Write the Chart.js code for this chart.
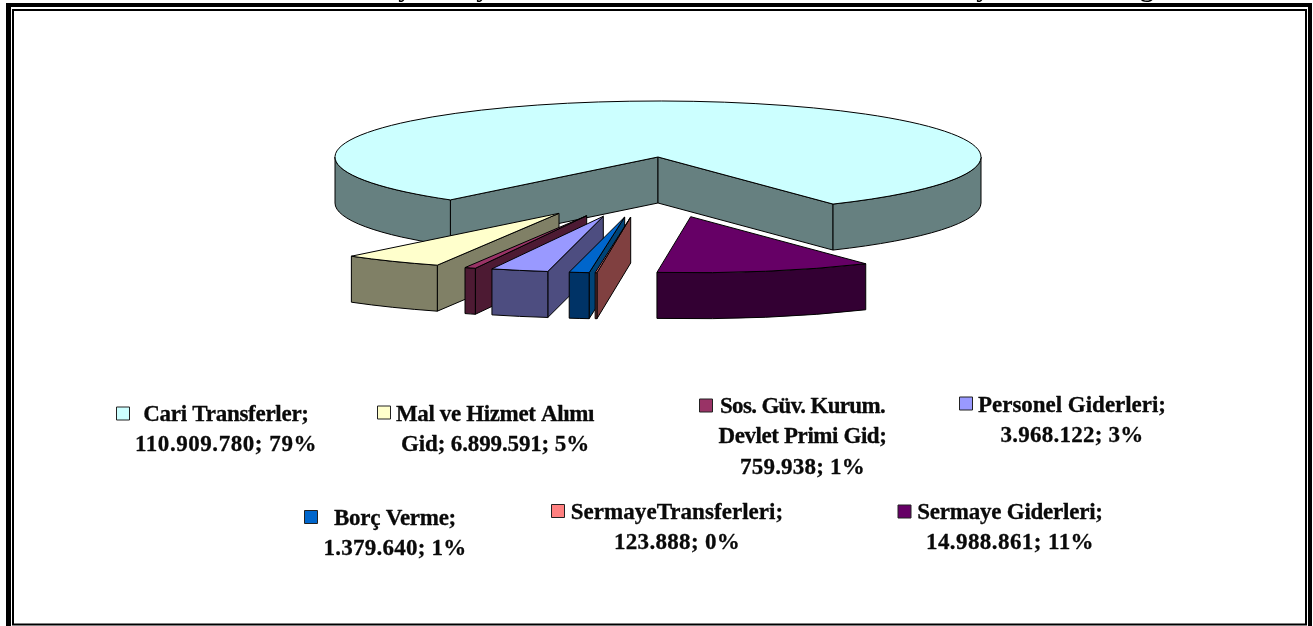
<!DOCTYPE html>
<html lang="tr">
<head>
<meta charset="utf-8">
<style>html,body{margin:0;padding:0;background:#fff;overflow:hidden}canvas{display:block}</style>
<script src="https://cdn.jsdelivr.net/npm/chart.js@4"></script>
</head>
<body>
<canvas id="c" width="1313" height="626"></canvas>
<script>
// ---- data (legend order) ----
const categories = ['Cari Transferler','Mal ve Hizmet Alımı\nGid','Sos. Güv. Kurum.\nDevlet Primi Gid','Personel Giderleri','Borç Verme','SermayeTransferleri','Sermaye Giderleri'];
const seriesValues = [110909780,6899591,759938,3968122,1379640,123888,14988861];
const percentLabels = [79,5,1,3,1,0,11];

// ---- styles ----
const topColors  = ['#CCFFFF','#FFFFCC','#993366','#9999FF','#0066CC','#FF8080','#660066'];
const sideColors = ['#668080','#808066','#4D1A33','#4D4D80','#003366','#804040','#330033'];
const faceColors = ['#668080','#808066','#4D1A33','#4D4D80','#004478','#804040','#330033'];
// ---- layout ----
const pie = {cx:658, cy:157, rx:323, ry:56, depth:46, rotation:220};
const explode = [[0,0],[-99,56.3],[-71.3,58.7],[-54.7,59.3],[-33.3,60],[-27.3,60],[32.7,59.7]];
const legendLayout = [
  {sx:116.5,sy:407,tx:226,by:421,w:[165.5,182]},
  {sx:377.5,sy:406,tx:495,by:421,w:[198,188],inline:true},
  {sx:699.5,sy:399,tx:802.5,by:413,w:[165,168,125]},
  {sx:959.5,sy:397,tx:1072,by:411.5,w:[188,143]},
  {sx:304.5,sy:510.5,tx:395,by:525,w:[122,143]},
  {sx:551.5,sy:504.5,tx:677,by:519,w:[212.5,126]},
  {sx:898,sy:505,tx:1010,by:519,w:[185.5,168]}
];
const FONT = 'bold 23px "Liberation Serif"';
const LH = 30.3;

// clockwise drawing order: the reference runs counter-clockwise through the legend order
const order = categories.map((_, i) => i === 0 ? 0 : categories.length - i);
const fmt = v => String(v).replace(/\B(?=(\d{3})+$)/g, '.');

function labelLines(i){
  const name = categories[i].split('\n');
  const tail = fmt(seriesValues[i]) + '; ' + percentLabels[i] + '%';
  if (legendLayout[i].inline){ name[name.length-1] += '; ' + tail; return name; }
  name[name.length-1] += ';';
  return name.concat(tail);
}

const pseudo3d = {
  id:'pseudo3d',
  beforeDatasetsDraw(chart){
    const ctx = chart.ctx, meta = chart.getDatasetMeta(0);
    const elems = [];
    order.forEach((src, idx) => { elems[src] = meta.data[idx]; });
    ctx.lineJoin = 'round';
    elems.forEach((el, i) => {
      const px = pie.cx + explode[i][0], py = pie.cy + explode[i][1];
      const a0 = el.startAngle, a1 = el.endAngle;
      const rim = a => [px + pie.rx*Math.cos(a), py + pie.ry*Math.sin(a)];
      const face = a => {
        const p = rim(a);
        ctx.beginPath();
        ctx.moveTo(px,py); ctx.lineTo(p[0],p[1]); ctx.lineTo(p[0],p[1]+pie.depth); ctx.lineTo(px,py+pie.depth);
        ctx.closePath(); ctx.fillStyle = faceColors[i]; ctx.fill();
        ctx.strokeStyle='#000'; ctx.lineWidth=1; ctx.stroke();
      };
      if (-Math.cos(a0) > 0) face(a0);
      if (Math.cos(a1) > 0) face(a1);
      // outer wall: the parts of the arc facing the viewer
      for (let k = -2; k <= 2; k++){
        const lo = Math.max(a0, 2*Math.PI*k), hi = Math.min(a1, Math.PI + 2*Math.PI*k);
        if (hi <= lo) continue;
        ctx.beginPath();
        ctx.ellipse(px,py,pie.rx,pie.ry,0,lo,hi);
        ctx.ellipse(px,py+pie.depth,pie.rx,pie.ry,0,hi,lo,true);
        ctx.closePath(); ctx.fillStyle = sideColors[i]; ctx.fill();
        ctx.strokeStyle='#000'; ctx.lineWidth=1; ctx.stroke();
      }
      // top face: the library's arc element, squashed
      ctx.save();
      ctx.translate(px,py);
      ctx.scale(pie.rx/el.outerRadius, pie.ry/el.outerRadius);
      ctx.translate(-el.x,-el.y);
      el.draw(ctx);
      ctx.restore();
      ctx.beginPath();
      ctx.moveTo(px,py);
      ctx.ellipse(px,py,pie.rx,pie.ry,0,a0,a1);
      ctx.closePath();
      ctx.strokeStyle='#000'; ctx.lineWidth=1; ctx.stroke();
    });
    return false;
  },
  afterDraw(chart){
    const ctx = chart.ctx;
    ctx.save();
    // page frame
    ctx.fillStyle='#000';
    ctx.fillRect(6,3,1306,4); ctx.fillRect(6,3,5,623); ctx.fillRect(1308,3,4,623);
    ctx.fillRect(12,9,1295,2); ctx.fillRect(12,9,2,615); ctx.fillRect(1305,9,2,615); ctx.fillRect(12,623.5,1295,2);
    // descenders of the cropped heading above the frame
    ctx.font = 'bold 27px "Liberation Serif"'; ctx.textAlign='center'; ctx.textBaseline='alphabetic';
    [['y',405],['y',483],['y',983],['g',1147]].forEach(t => ctx.fillText(t[0],t[1],-4.5));
    // legend
    categories.forEach((_, i) => {
      const l = legendLayout[i];
      ctx.fillStyle = topColors[i]; ctx.fillRect(l.sx,l.sy,13,13);
      ctx.strokeStyle = '#222'; ctx.lineWidth=1; ctx.strokeRect(l.sx,l.sy,13,13);
      ctx.fillStyle = '#0a0a0a'; ctx.strokeStyle = '#0a0a0a'; ctx.lineWidth = 0.3;
      ctx.font = FONT; ctx.textAlign='center'; ctx.textBaseline='alphabetic';
      labelLines(i).forEach((t, j) => {
        ctx.letterSpacing = '0px';
        const ls = (l.w[j] - ctx.measureText(t).width) / t.length;
        ctx.letterSpacing = ls.toFixed(3) + 'px';
        ctx.fillText(t, l.tx, l.by + j*LH);
        ctx.strokeText(t, l.tx, l.by + j*LH);
      });
      ctx.letterSpacing = '0px';
    });
    ctx.restore();
  }
};

new Chart(document.getElementById('c'), {
  type:'pie',
  data:{
    labels: order.map(i => categories[i].replace('\n',' ')),
    datasets:[{
      data: order.map(i => seriesValues[i]),
      backgroundColor: order.map(i => topColors[i]),
      borderWidth:0
    }]
  },
  options:{
    responsive:false, animation:false, rotation:pie.rotation,
    layout:{padding:0},
    plugins:{legend:{display:false}, tooltip:{enabled:false}, title:{display:false}}
  },
  plugins:[pseudo3d]
});
</script>
</body>
</html>
